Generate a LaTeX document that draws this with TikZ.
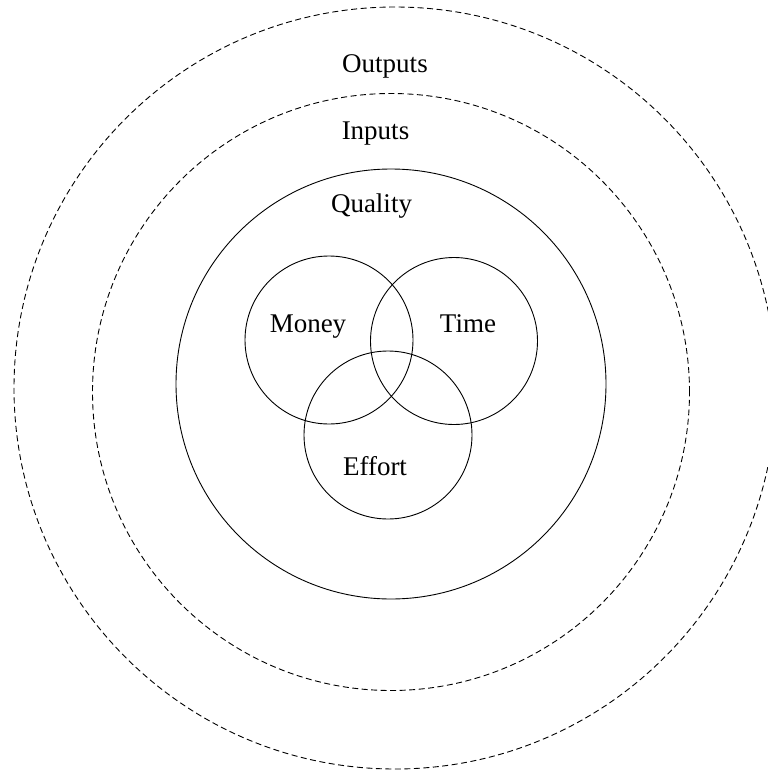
\documentclass[tikz,border=0pt]{standalone}
\usepackage{fontspec}
\setmainfont{Liberation Serif}
\begin{document}
\begin{tikzpicture}[x=1pt,y=-1pt,
  ring/.style={circle,draw,inner sep=0pt,line width=0.9pt},
  dashring/.style={ring,dash pattern=on 6pt off 3.5pt},
  lbl/.style={anchor=base,inner sep=0pt,font=\fontsize{27}{32}\selectfont}]
  \useasboundingbox (0,0) rectangle (768,771);
  \clip (0,0) rectangle (768,771);
  % nested scopes
  \node[dashring,minimum size=762pt] (outputs) at (395,388) {};
  \node[dashring,minimum size=597pt] (inputs) at (391,392) {};
  \node[ring,minimum size=430pt] (quality) at (391,384) {};
  % resource circles
  \node[ring,minimum size=168pt] (money) at (329,340) {};
  \node[ring,minimum size=167pt] (time) at (454,341) {};
  \node[ring,minimum size=168pt] (effort) at (388,435) {};
  % labels
  \node[lbl] (toutputs) at (385,72) {Outputs};
  \node[lbl] (tinputs) at (375.5,139) {Inputs};
  \node[lbl] (tquality) at (371.5,212) {Quality};
  \node[lbl] (tmoney) at (308,332) {Money};
  \node[lbl] (ttime) at (468,332) {Time};
  \node[lbl] (teffort) at (375,475) {Effort};
\end{tikzpicture}
\end{document}
